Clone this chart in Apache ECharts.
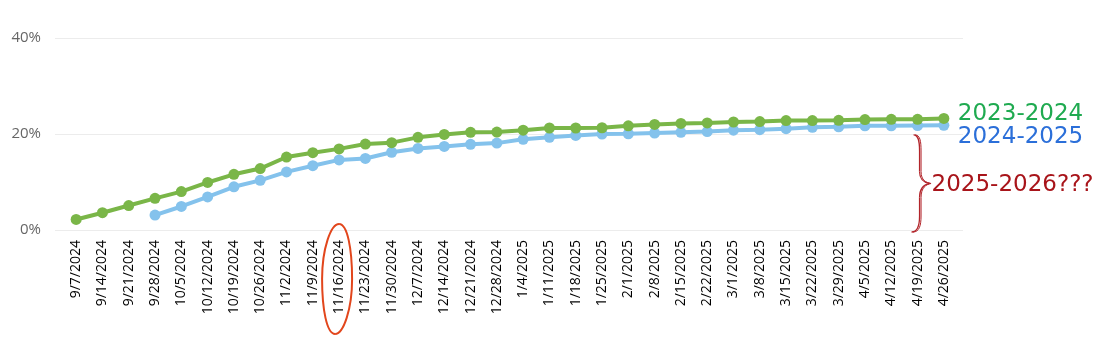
<!DOCTYPE html>
<html>
<head>
<meta charset="utf-8">
<script src="https://cdn.jsdelivr.net/npm/echarts@6/dist/echarts.min.js"></script>
<style>html,body{margin:0;padding:0;background:#fff}#c{width:1100px;height:342px}</style>
</head>
<body>
<div id="c"></div>
<script>
const categories = ['9/7/2024','9/14/2024','9/21/2024','9/28/2024','10/5/2024','10/12/2024','10/19/2024','10/26/2024','11/2/2024','11/9/2024','11/16/2024','11/23/2024','11/30/2024','12/7/2024','12/14/2024','12/21/2024','12/28/2024','1/4/2025','1/11/2025','1/18/2025','1/25/2025','2/1/2025','2/8/2025','2/15/2025','2/22/2025','3/1/2025','3/8/2025','3/15/2025','3/22/2025','3/29/2025','4/5/2025','4/12/2025','4/19/2025','4/26/2025'];
const season2324 = [2.2,3.6,5.1,6.6,8.0,9.9,11.6,12.8,15.2,16.1,16.9,17.9,18.2,19.3,19.9,20.35,20.4,20.8,21.25,21.25,21.3,21.7,22.0,22.2,22.3,22.5,22.6,22.8,22.8,22.85,23.0,23.05,23.05,23.25];
const season2425 = [null,null,null,3.1,4.9,6.9,9.0,10.35,12.1,13.4,14.6,14.9,16.2,17.0,17.4,17.85,18.1,18.9,19.3,19.7,20.0,20.05,20.2,20.35,20.5,20.8,20.9,21.1,21.4,21.5,21.7,21.7,21.75,21.8];
const yTicks = [0, 20, 40];
const seriesNames = ['2023-2024', '2024-2025'];
const futureLabel = '2025-2026???';
const circledCategory = '11/16/2024';

const chart = echarts.init(document.getElementById('c'), null, {renderer: 'canvas'});
const FONT = '"Open Sans", "Noto Sans", sans-serif';
const ANN = '"DejaVu Sans", sans-serif';
chart.setOption({
  animation: false,
  backgroundColor: '#ffffff',
  grid: [
    {left: 55, right: 137, top: 38, bottom: 112},
    {left: 63, right: 143, top: 38, bottom: 112}
  ],
  xAxis: [
    {gridIndex: 0, type: 'category', data: categories, show: false},
    {gridIndex: 1, type: 'category', data: categories, boundaryGap: true,
     axisLine: {show: false}, axisTick: {show: false},
     axisLabel: {rotate: 90, interval: 0, color: '#000', fontSize: 14, fontFamily: FONT, margin: 10}}
  ],
  yAxis: [
    {gridIndex: 0, type: 'value', min: yTicks[0], max: yTicks[yTicks.length-1], interval: 20,
     axisLine: {show: false}, axisTick: {show: false},
     axisLabel: {formatter: v => v + '%', color: '#666', fontSize: 15, fontFamily: FONT, margin: 14},
     splitLine: {lineStyle: {color: '#ececec', width: 1}}},
    {gridIndex: 1, type: 'value', min: yTicks[0], max: yTicks[yTicks.length-1], interval: 20, show: false}
  ],
  series: [
    {name: seriesNames[1], type: 'line', xAxisIndex: 1, yAxisIndex: 1, data: season2425,
     symbol: 'circle', symbolSize: 11, lineStyle: {color: '#84c2ec', width: 4},
     itemStyle: {color: '#84c2ec'},
     endLabel: {show: true, formatter: p => p.seriesName, color: '#2b6fd9', fontSize: 23, fontFamily: ANN, offset: [6, 12]}},
    {name: seriesNames[0], type: 'line', xAxisIndex: 1, yAxisIndex: 1, data: season2324,
     symbol: 'circle', symbolSize: 11, lineStyle: {color: '#7ab648', width: 4},
     itemStyle: {color: '#7ab648'},
     endLabel: {show: true, formatter: p => p.seriesName, color: '#1faa50', fontSize: 23, fontFamily: ANN, offset: [6, -4]}}
  ]
});

function bez(p0, c1, c2, p1, style) {
  return {type: 'bezierCurve', z: 100,
    shape: {x1: p0[0], y1: p0[1], cpx1: c1[0], cpy1: c1[1], cpx2: c2[0], cpy2: c2[1], x2: p1[0], y2: p1[1]},
    style: Object.assign({fill: 'none'}, style)};
}
function seg(p0, p1, style) {
  return {type: 'line', z: 100, shape: {x1: p0[0], y1: p0[1], x2: p1[0], y2: p1[1]}, style: style};
}

function drawAnnotations() {
  const cx = chart.convertToPixel({xAxisIndex: 1}, circledCategory);
  const y0 = chart.convertToPixel({yAxisIndex: 1}, 0);
  const yTop = chart.convertToPixel({yAxisIndex: 1}, 19.8);
  const bx = chart.convertToPixel({xAxisIndex: 1}, categories[categories.length - 2]) - 4;
  const by0 = yTop, by1 = y0 + 2, bm = (by0 + by1) / 2;
  const g = [];
  [[0, 1.3], [1.5, 1]].forEach(([dx, lw]) => {
    const x = bx + dx, st = {stroke: '#b2242a', lineWidth: lw};
    g.push(bez([x, by0], [x+5, by0], [x+6, by0+6], [x+6, by0+16], st));
    g.push(seg([x+6, by0+16], [x+6, bm-12], st));
    g.push(bez([x+6, bm-12], [x+6, bm-3], [x+11, bm-1], [x+16, bm], st));
    g.push(bez([x+16, bm], [x+11, bm+1], [x+6, bm+4], [x+6, bm+14], st));
    g.push(seg([x+6, bm+14], [x+6, by1-16], st));
    g.push(bez([x+6, by1-16], [x+6, by1-6], [x+4, by1], [x-2, by1], st));
  });
  g.push({type: 'text', z: 100, x: bx + 18, y: bm + 2,
    style: {text: futureLabel, fill: '#a8141a', fontSize: 23, fontFamily: ANN, verticalAlign: 'middle'}});
  // hand-drawn ellipse around the circled category label
  const ex = cx - 2, ey = y0 + 49, rx = 15, ry = 55, k = 0.5523, t = 2;
  const est = {stroke: '#e2461c', lineWidth: 2};
  g.push(bez([ex + t, ey - ry], [ex + rx*k + t, ey - ry], [ex + rx, ey - ry*k], [ex + rx, ey], est));
  g.push(bez([ex + rx, ey], [ex + rx, ey + ry*k], [ex + rx*k - t, ey + ry], [ex - t, ey + ry], est));
  g.push(bez([ex - t, ey + ry], [ex - rx*k - t, ey + ry], [ex - rx, ey + ry*k], [ex - rx, ey], est));
  g.push(bez([ex - rx, ey], [ex - rx, ey - ry*k], [ex - rx*k + t, ey - ry], [ex + t, ey - ry], est));
  chart.setOption({graphic: g});
}
drawAnnotations();
</script>
</body>
</html>
